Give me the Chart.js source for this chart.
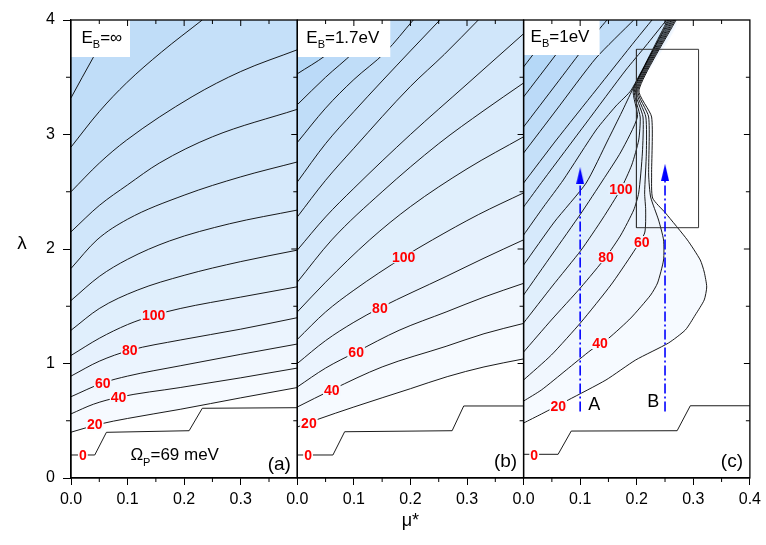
<!DOCTYPE html>
<html>
<head>
<meta charset="utf-8">
<title>Tc contours</title>
<script src="https://cdn.jsdelivr.net/npm/chart.js@4.4.1/dist/chart.umd.min.js"></script>
<style>
  html, body { margin: 0; padding: 0; background: #fff; }
  #box { width: 766px; height: 545px; }
</style>
</head>
<body>
<div id="box"><canvas id="tcChart" width="766" height="545"></canvas></div>
<script>
// contour levels (Tc, K) and contour lines as [mu*, lambda] points
const levelsA = [20, 40, 60, 80, 100, 120, 140, 160, 180, 200, 220, 240];
const a20 = [[0,0.40],[0.05,0.47],[0.1,0.52],[0.193,0.60],[0.3,0.70],[0.4,0.79]];
const a40 = [[0,0.56],[0.04,0.645],[0.084,0.705],[0.193,0.79],[0.3,0.875],[0.4,0.96]];
const a60 = [[0,0.71],[0.056,0.83],[0.1,0.89],[0.193,0.98],[0.3,1.08],[0.4,1.17]];
const a80 = [[0,0.89],[0.05,1.02],[0.104,1.115],[0.193,1.205],[0.3,1.30],[0.4,1.40]];
const a100 = [[0,1.07],[0.05,1.22],[0.1,1.34],[0.146,1.42],[0.193,1.48],[0.3,1.58],[0.4,1.67]];
const a120 = [[0,1.29],[0.05,1.48],[0.117,1.64],[0.2,1.77],[0.3,1.89],[0.4,1.99]];
const a140 = [[0,1.55],[0.05,1.76],[0.1,1.91],[0.174,2.07],[0.28,2.22],[0.4,2.34]];
const a160 = [[0,1.83],[0.046,2.08],[0.1,2.26],[0.2,2.47],[0.3,2.63],[0.4,2.76]];
const a180 = [[0,2.15],[0.05,2.38],[0.1,2.56],[0.156,2.75],[0.25,2.98],[0.4,3.22]];
const a200 = [[0,2.50],[0.05,2.75],[0.098,2.95],[0.214,3.33],[0.3,3.55],[0.4,3.74]];
const a220 = [[0,2.89],[0.05,3.20],[0.098,3.45],[0.16,3.72],[0.232,4.0]];
const a240 = [[0,3.32],[0.039,3.67],[0.078,4.0]];
const linesA = [a20, a40, a60, a80, a100, a120, a140, a160, a180, a200, a220, a240];

const levelsB = [20, 40, 60, 80, 100, 120, 140, 160, 180, 200, 220, 240, 260, 280];
const b20 = [[0,0.445],[0.035,0.51],[0.1,0.62],[0.2,0.78],[0.265,0.885],[0.33,0.97],[0.4,1.04]];
const b40 = [[0,0.62],[0.061,0.77],[0.15,0.97],[0.263,1.15],[0.33,1.26],[0.4,1.35]];
const b60 = [[0,0.795],[0.05,0.96],[0.104,1.10],[0.18,1.29],[0.263,1.45],[0.33,1.58],[0.4,1.70]];
const b80 = [[0,1.00],[0.05,1.20],[0.1,1.36],[0.146,1.485],[0.263,1.76],[0.33,1.92],[0.4,2.08]];
const b100 = [[0,1.21],[0.05,1.45],[0.1,1.64],[0.188,1.93],[0.239,2.08],[0.32,2.30],[0.4,2.49]];
const b120 = [[0,1.45],[0.05,1.71],[0.128,2.08],[0.2,2.37],[0.3,2.70],[0.4,2.98]];
const b140 = [[0,1.71],[0.061,2.08],[0.15,2.50],[0.25,2.92],[0.33,3.21],[0.4,3.45]];
const b160 = [[0,1.99],[0.05,2.28],[0.1,2.53],[0.2,3.00],[0.3,3.44],[0.4,3.88]];
const b180 = [[0,2.28],[0.05,2.60],[0.1,2.88],[0.2,3.42],[0.26,3.70],[0.32,4.0]];
const b200 = [[0,2.585],[0.05,2.92],[0.1,3.20],[0.2,3.73],[0.252,4.0]];
const b220 = [[0,2.93],[0.05,3.23],[0.1,3.48],[0.156,3.72],[0.205,4.0]];
const b240 = [[0,3.26],[0.05,3.50],[0.1,3.72],[0.152,4.0]];
const b260 = [[0,3.53],[0.05,3.69],[0.1,3.90],[0.12,4.0]];
const b280 = [[0,3.83],[0.035,4.0]];
const linesB = [b20, b40, b60, b80, b100, b120, b140, b160, b180, b200, b220, b240, b260, b280];

const levelsC = [20, 40, 60, 80, 100, 120, 140, 160, 180, 200, 220, 240, 260, 280, 300];
const c20 = [[0,0.480],[0.0316,0.559],[0.0789,0.681],[0.1456,0.856],[0.1982,1.031],[0.2561,1.179],[0.286,1.293],[0.3035,1.424],[0.3193,1.555],[0.3237,1.668],[0.3193,1.799],[0.3123,1.904],[0.2895,2.079],[0.2509,2.314],[0.2281,2.445],[0.2263,2.646],[0.2263,3.153],[0.2039,3.389],[0.2695,4.0]];
const c40 = [[0,0.672],[0.0316,0.769],[0.0754,0.943],[0.1193,1.118],[0.1509,1.223],[0.1895,1.397],[0.2246,1.598],[0.2368,1.703],[0.2474,1.904],[0.2474,2.079],[0.2386,2.253],[0.2246,2.454],[0.2211,2.646],[0.2211,3.153],[0.2019,3.389],[0.2674,4.0]];
const c60 = [[0,0.856],[0.0491,1.074],[0.1018,1.362],[0.1544,1.686],[0.193,1.965],[0.214,2.14],[0.2158,2.341],[0.214,2.489],[0.217,2.838],[0.2161,3.153],[0.2,3.389],[0.2653,4.0]];
const c80 = [[0,1.1],[0.0491,1.38],[0.1018,1.668],[0.1456,1.93],[0.1719,2.122],[0.1947,2.341],[0.2035,2.489],[0.21,2.838],[0.2111,3.153],[0.1981,3.389],[0.2632,4.0]];
const c100 = [[0,1.354],[0.0509,1.677],[0.1018,1.991],[0.1404,2.271],[0.1719,2.524],[0.1912,2.734],[0.2035,2.952],[0.2061,3.153],[0.1961,3.389],[0.2611,4.0]];
const c120 = [[0,1.598],[0.0509,1.956],[0.1018,2.314],[0.1404,2.603],[0.1719,2.847],[0.2012,3.153],[0.1942,3.389],[0.2589,4.0]];
const c140 = [[0,1.86],[0.0544,2.236],[0.1105,2.576],[0.1491,2.952],[0.1737,3.197],[0.1923,3.389],[0.2568,4.0]];
const c160 = [[0,2.122],[0.0351,2.367],[0.0702,2.603],[0.1281,3.039],[0.1632,3.249],[0.1904,3.389],[0.2547,4.0]];
const c180 = [[0,2.367],[0.0351,2.603],[0.1105,3.1],[0.1807,3.563],[0.2158,3.773],[0.2526,4.0]];
const c200 = [[0,2.576],[0.0579,2.952],[0.1281,3.389],[0.1982,3.825],[0.227,4.0]];
const c220 = [[0,2.838],[0.0579,3.214],[0.1281,3.668],[0.1947,4.0]];
const c240 = [[0,3.066],[0.0579,3.441],[0.1105,3.782],[0.1474,4.0]];
const c260 = [[0,3.328],[0.0579,3.703],[0.1018,4.0]];
const c280 = [[0,3.59],[0.0632,4.0]];
const c300 = [[0,3.843],[0.0246,4.0]];
const linesC = [c20, c40, c60, c80, c100, c120, c140, c160, c180, c200, c220, c240, c260, c280, c300];

// Tc = 0 boundary (step line)
const stepA = [[0,0.201],[0.042,0.201],[0.0626,0.399],[0.2088,0.413],[0.2321,0.609],[0.4,0.614]];
const stepB = [[0,0.201],[0.063,0.201],[0.0837,0.404],[0.2737,0.413],[0.2942,0.629],[0.4,0.629]];
const stepC = [[0,0.207],[0.061,0.207],[0.0842,0.41],[0.2714,0.413],[0.2947,0.631],[0.4,0.631]];

// contour labels
const labelTexts = ['0', '20', '40', '60', '80', '100'];
const labelLevels = [0, 20, 40, 60, 80, 100];
const labelPosA = [[0.021,0.20],[0.042,0.469],[0.084,0.707],[0.056,0.83],[0.104,1.118],[0.146,1.424]];
const labelPosB = [[0.019,0.20],[0.0205,0.478],[0.061,0.769],[0.104,1.098],[0.146,1.482],[0.188,1.928]];
const labelPosC = [[0.0188,0.20],[0.0614,0.629],[0.135,1.179],[0.2088,2.061],[0.1456,1.93],[0.1719,2.524]];

// panel (c) paths A and B, and the marked box
const pathMu = [0.1, 0.25];
const pathStart = 0.58;
const pathHead = [2.64, 2.67];
const pathNames = ['A', 'B'];
const boxC = [[0.1995,2.186],[0.3093,2.186],[0.3093,3.744],[0.1995,3.744],[0.1995,2.186]];

const ebValues = ['=\u221e', '=1.7eV', '=1eV'];
const panelTags = ['(a)', '(b)', '(c)'];

const FONT = '"Liberation Sans", Arial, sans-serif';
const tickFont = {family: '"Liberation Sans Narrow", "Liberation Sans", Arial, sans-serif', size: 16};

function bandColor(level) {
  const t = Math.min(1, Math.max(0, (level - 20) / 300));
  return 'rgb(' + Math.round(246 - 81 * t) + ',' + Math.round(250 - 43 * t) + ',' + Math.round(255 - 10 * t) + ')';
}

const toXY = pts => pts.map(p => ({x: p[0], y: p[1]}));

// region above/left of a contour, closed along the top edge
function closeShape(pts) {
  const out = toXY(pts);
  const last = pts[pts.length - 1];
  if (last[1] < 4) out.push({x: 0.4, y: 4});
  out.push({x: 0, y: 4});
  return out;
}

const datasets = [];
// panels a and b: contours run left to right, fill up to the top edge
function addSmoothPanel(lines, levels, step, axisId) {
  lines.forEach((pts, i) => {
    datasets.push({
      data: toXY(pts), xAxisID: axisId, yAxisID: 'y', showLine: true,
      fill: 'end', backgroundColor: bandColor(levels[i]), cubicInterpolationMode: 'monotone',
      borderColor: 'rgba(0,0,0,0)', borderWidth: 0, pointRadius: 0, order: 1000 - levels[i]
    });
    datasets.push({
      data: toXY(pts), xAxisID: axisId, yAxisID: 'y', showLine: true, fill: false,
      cubicInterpolationMode: 'monotone',
      borderColor: '#000', borderWidth: 0.9, pointRadius: 0, order: 10
    });
  });
  datasets.push({
    data: toXY(step), xAxisID: axisId, yAxisID: 'y', showLine: true, fill: false,
    borderColor: '#000', borderWidth: 0.9, pointRadius: 0, order: 10
  });
}
// panel c: contours fold back, fill the closed shape
function addFoldPanel(lines, levels, step, axisId) {
  lines.forEach((pts, i) => {
    datasets.push({
      data: closeShape(pts), xAxisID: axisId, yAxisID: 'y', showLine: true,
      fill: 'shape', backgroundColor: bandColor(levels[i]), tension: 0.2,
      borderColor: 'rgba(0,0,0,0)', borderWidth: 0, pointRadius: 0, order: 1000 - levels[i]
    });
    datasets.push({
      data: toXY(pts), xAxisID: axisId, yAxisID: 'y', showLine: true, fill: false, tension: 0.2,
      borderColor: '#000', borderWidth: 0.9, pointRadius: 0, order: 10
    });
  });
  datasets.push({
    data: toXY(step), xAxisID: axisId, yAxisID: 'y', showLine: true, fill: false,
    borderColor: '#000', borderWidth: 0.9, pointRadius: 0, order: 10
  });
}
addSmoothPanel(linesA, levelsA, stepA, 'xa');
addSmoothPanel(linesB, levelsB, stepB, 'xb');
addFoldPanel(linesC, levelsC, stepC, 'xc');

// arrow head image
const head = document.createElement('canvas');
head.width = 8; head.height = 17;
const hctx = head.getContext('2d');
hctx.fillStyle = '#0000ff';
hctx.beginPath(); hctx.moveTo(4, 0); hctx.lineTo(8, 17); hctx.lineTo(0, 17); hctx.closePath(); hctx.fill();

pathMu.forEach((mu, i) => {
  datasets.push({
    data: [{x: mu, y: pathStart}, {x: mu, y: pathHead[i]}], xAxisID: 'xc', yAxisID: 'y',
    showLine: true, fill: false, borderColor: '#0000ff', borderWidth: 1.6,
    borderDash: [10, 3, 2, 3], pointRadius: 0, order: 5
  });
  datasets.push({
    data: [{x: mu, y: pathHead[i]}], xAxisID: 'xc', yAxisID: 'y', showLine: false,
    pointStyle: head, pointRadius: 8, order: 4
  });
});
datasets.push({
  data: toXY(boxC), xAxisID: 'xc', yAxisID: 'y', showLine: true, fill: false,
  borderColor: '#333', borderWidth: 1, pointRadius: 0, order: 5
});

function xScale(showLast, title) {
  return {
    type: 'linear', position: 'bottom', stack: 'panels', stackWeight: 1,
    min: 0, max: 0.4,
    afterFit: s => { s.height = 67; },
    ticks: {
      stepSize: 0.1, color: '#000', font: tickFont, padding: 5, maxRotation: 0, autoSkip: false,
      callback: v => (!showLast && v > 0.39) ? '' : v.toFixed(1)
    },
    grid: {drawOnChartArea: false, drawTicks: true, tickLength: 7, color: '#000', lineWidth: 1},
    border: {display: true, color: '#000', width: 1.3},
    title: title
      ? {display: true, text: title, color: '#000', font: {family: FONT, size: 18}, padding: {top: 0, bottom: 13}}
      : {display: false}
  };
}

const decorations = {
  id: 'decorations',
  afterDatasetsDraw(chart) {
    const {ctx, chartArea, scales} = chart;
    const ys = scales.y;
    const panels = [scales.xa, scales.xb, scales.xc];
    const labelPos = [labelPosA, labelPosB, labelPosC];
    ctx.save();

    // contour labels
    ctx.textAlign = 'center';
    ctx.textBaseline = 'middle';
    ctx.font = 'bold 14px ' + FONT;
    panels.forEach((xs, p) => {
      labelPos[p].forEach((q, i) => {
        const px = xs.getPixelForValue(q[0]), py = ys.getPixelForValue(q[1]);
        const w = ctx.measureText(labelTexts[i]).width + 2;
        ctx.fillStyle = labelLevels[i] === 0 ? '#fff' : bandColor(labelLevels[i] - 10);
        ctx.fillRect(px - w / 2, py - 6, w, 12);
        ctx.fillStyle = '#ff0000';
        ctx.fillText(labelTexts[i], px, py + 1);
      });
    });

    // E_B boxes
    const boxW = [59, 93, 76], boxH = [37, 37, 35], textX = [10.5, 9, 7], textY = [22.5, 22.5, 21.7];
    ctx.textAlign = 'left';
    ctx.textBaseline = 'alphabetic';
    panels.forEach((xs, p) => {
      const x0 = xs.left, y0 = chartArea.top;
      ctx.fillStyle = '#fff';
      ctx.fillRect(x0, y0, boxW[p], boxH[p]);
      ctx.fillStyle = '#000';
      let x = x0 + textX[p];
      const y = y0 + textY[p];
      ctx.font = '17px ' + FONT;
      ctx.fillText('E', x, y);
      x += ctx.measureText('E').width;
      ctx.font = '11px ' + FONT;
      ctx.fillText('B', x, y + 5);
      x += ctx.measureText('B').width;
      ctx.font = '17px ' + FONT;
      ctx.fillText(ebValues[p], x, y);
    });

    // panel tags
    ctx.textAlign = 'center';
    ctx.textBaseline = 'middle';
    ctx.font = '19px ' + FONT;
    panels.forEach((xs, p) => {
      ctx.fillText(panelTags[p], xs.right - 18, chartArea.bottom - (p === 0 ? 13.5 : 16));
    });

    // Omega_P note
    ctx.textAlign = 'left';
    ctx.textBaseline = 'alphabetic';
    let ox = scales.xa.getPixelForValue(0.105);
    const oy = ys.getPixelForValue(0.157);
    ctx.font = '17px ' + FONT;
    ctx.fillText('\u03a9', ox, oy);
    ox += ctx.measureText('\u03a9').width;
    ctx.font = '11px ' + FONT;
    ctx.fillText('P', ox, oy + 6);
    ox += ctx.measureText('P').width;
    ctx.font = '17px ' + FONT;
    ctx.fillText('=69 meV', ox, oy);

    // path names
    ctx.textAlign = 'center';
    ctx.textBaseline = 'middle';
    ctx.font = '18px ' + FONT;
    ctx.fillText(pathNames[0], scales.xc.getPixelForValue(0.125), ys.getPixelForValue(0.638));
    ctx.fillText(pathNames[1], scales.xc.getPixelForValue(0.2293), ys.getPixelForValue(0.661));

    // y title
    ctx.font = '19px ' + FONT;
    ctx.fillText('\u03bb', chartArea.left - 49, ys.getPixelForValue(2.05));

    // frames and extra ticks
    const xMajor = [0.1, 0.2, 0.3], xMinor = [0.05, 0.15, 0.25, 0.35];
    const yMajor = [1, 2, 3], yMinor = [0.5, 1.5, 2.5, 3.5];
    ctx.strokeStyle = '#000';
    panels.forEach((xs, p) => {
      ctx.lineWidth = 1;
      ctx.beginPath();
      xMajor.forEach(v => { const px = xs.getPixelForValue(v); ctx.moveTo(px, chartArea.top); ctx.lineTo(px, chartArea.top + 6); });
      xMinor.forEach(v => {
        const px = xs.getPixelForValue(v);
        ctx.moveTo(px, chartArea.top); ctx.lineTo(px, chartArea.top + 4);
        ctx.moveTo(px, chartArea.bottom); ctx.lineTo(px, chartArea.bottom + 4);
      });
      yMajor.forEach(v => { const py = ys.getPixelForValue(v); ctx.moveTo(xs.right, py); ctx.lineTo(xs.right - 6, py); });
      yMinor.forEach(v => { const py = ys.getPixelForValue(v); ctx.moveTo(xs.right, py); ctx.lineTo(xs.right - 4, py); });
      if (p === 0) {
        yMinor.forEach(v => { const py = ys.getPixelForValue(v); ctx.moveTo(xs.left, py); ctx.lineTo(xs.left - 5, py); });
      }
      ctx.stroke();
      ctx.lineWidth = 1.3;
      ctx.strokeRect(xs.left, chartArea.top, xs.right - xs.left, chartArea.bottom - chartArea.top);
    });
    ctx.restore();
  }
};

const ctx = document.getElementById('tcChart').getContext('2d');
const tcChart = new Chart(ctx, {
  type: 'scatter',
  data: {datasets},
  options: {
    responsive: false,
    animation: false,
    events: [],
    layout: {padding: {top: 20, right: 11, bottom: 0, left: 0}},
    plugins: {legend: {display: false}, tooltip: {enabled: false}},
    scales: {
      xa: xScale(false),
      xb: xScale(false, '\u03bc*'),
      xc: xScale(true),
      y: {
        type: 'linear', position: 'left', min: 0, max: 4,
        afterFit: s => { s.width = 71; },
        ticks: {stepSize: 1, color: '#000', font: tickFont, padding: 8, callback: v => String(v)},
        grid: {drawOnChartArea: false, drawTicks: true, tickLength: 8, color: '#000', lineWidth: 1},
        border: {display: true, color: '#000', width: 1.3}
      }
    }
  },
  plugins: [decorations]
});
</script>
</body>
</html>
